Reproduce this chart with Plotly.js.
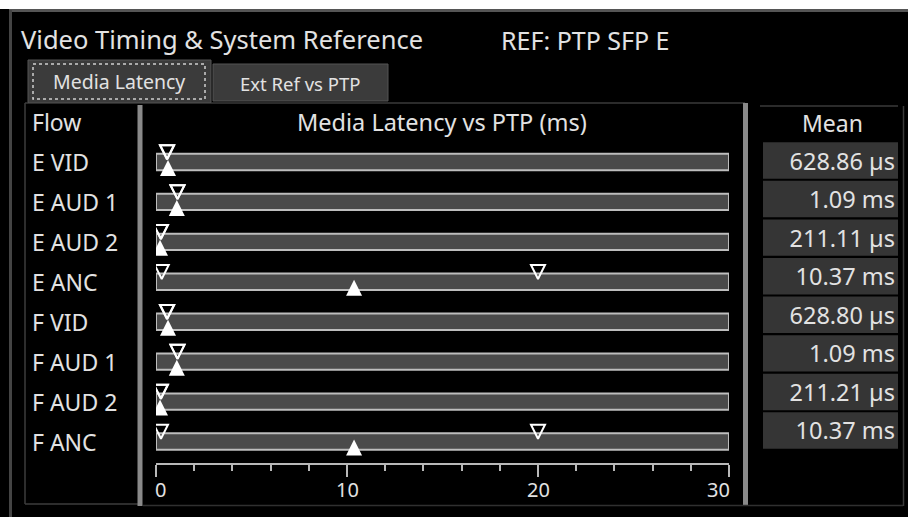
<!DOCTYPE html>
<html>
<head>
<meta charset="utf-8">
<script src="https://cdn.plot.ly/plotly-3.0.1.min.js"></script>
<style>
html,body{margin:0;padding:0;background:#000;}
#chart{width:908px;height:517px;}
</style>
</head>
<body>
<div id="chart"></div>
<script>
// ---- data ----
const flows = ['E VID', 'E AUD 1', 'E AUD 2', 'E ANC', 'F VID', 'F AUD 1', 'F AUD 2', 'F ANC'];
const meanMs = [0.62886, 1.09, 0.21111, 10.37, 0.62880, 1.09, 0.21121, 10.37];
const minMs = [0.57, 1.12, 0.25, 0.30, 0.57, 1.12, 0.25, 0.26];
const maxMs = [0.59, 1.13, 0.26, 20.0, 0.59, 1.13, 0.26, 20.0];
const meanLabels = ['628.86 µs', '1.09 ms', '211.11 µs', '10.37 ms', '628.80 µs', '1.09 ms', '211.21 µs', '10.37 ms'];
const tickValues = [0, 10, 20, 30];
const tickLabels = ['0', '10', '20', '30'];
const axisMin = 0, axisMax = 30;

// ---- helpers ----
const W = 908, H = 517;
const px = x => x / W;
const py = y => 1 - y / H;
const FONT = '"Noto Sans", "Open Sans", sans-serif';
const TXT = '#e2e2e2';
const rows = flows.map((_, i) => i);

const traces = [
  { // track bars (full scale)
    type: 'bar', orientation: 'h', xaxis: 'x', yaxis: 'y',
    y: rows, x: flows.map(() => axisMax - axisMin), base: axisMin,
    width: 0.41,
    marker: { color: '#4a4a4a', line: { color: '#bdbdbd', width: 2 } },
    hoverinfo: 'skip'
  },
  { // min markers
    type: 'scatter', mode: 'markers', xaxis: 'x', yaxis: 'y',
    x: minMs, y: rows.map(r => r - 0.07),
    marker: { symbol: 'arrow-down-open', size: 14, color: '#ffffff', line: { color: '#ffffff', width: 2 } },
    hoverinfo: 'skip'
  },
  { // max markers
    type: 'scatter', mode: 'markers', xaxis: 'x', yaxis: 'y',
    x: maxMs, y: rows.map(r => r - 0.07),
    marker: { symbol: 'arrow-down-open', size: 14, color: '#ffffff', line: { color: '#ffffff', width: 2 } },
    hoverinfo: 'skip'
  },
  { // mean markers
    type: 'scatter', mode: 'markers', xaxis: 'x', yaxis: 'y',
    x: meanMs, y: rows.map(r => r - 0.05),
    marker: { symbol: 'arrow-up', size: 16, color: '#ffffff', line: { width: 0 } },
    hoverinfo: 'skip'
  },
  { // mean value cells
    type: 'bar', orientation: 'h', xaxis: 'x2', yaxis: 'y2',
    y: rows, x: flows.map(() => 1), base: 0, width: 0.945,
    marker: { color: '#353535', line: { width: 0 } },
    text: meanLabels, textposition: 'inside', insidetextanchor: 'end',
    constraintext: 'none', cliponaxis: false,
    insidetextfont: { family: FONT, size: 23.5, color: TXT },
    hoverinfo: 'skip'
  }
];

const annotations = [];
function ann(text, x, y, size, xanchor, extra) {
  annotations.push(Object.assign({
    text: text, xref: 'paper', yref: 'paper', x: px(x), y: py(y),
    xanchor: xanchor || 'left', yanchor: 'middle', showarrow: false,
    font: { family: FONT, size: size, color: TXT }
  }, extra || {}));
}
ann('REF: PTP SFP E', 499, 40, 25, 'left');
ann('Media Latency', 119, 81, 19.5, 'center');
ann('Ext Ref vs PTP', 300, 83, 18.5, 'center');
ann('Flow', 30, 122, 23, 'left');
ann('Media Latency vs PTP (ms)', 442, 122, 23.5, 'center');
ann('Mean', 832, 123, 23, 'center');
flows.forEach((f, i) => {
  annotations.push({
    text: f, xref: 'paper', yref: 'y', x: px(30), y: i,
    xanchor: 'left', yanchor: 'middle', showarrow: false,
    font: { family: FONT, size: 23, color: TXT }
  });
});
tickValues.forEach((v, i) => {
  annotations.push({
    text: tickLabels[i], xref: 'x', yref: 'paper', x: v, y: py(490),
    xanchor: i === 0 ? 'left' : (i === tickValues.length - 1 ? 'right' : 'center'),
    xshift: i === 0 ? -3 : (i === tickValues.length - 1 ? 3 : 0),
    yanchor: 'middle', showarrow: false,
    font: { family: FONT, size: 20, color: TXT }
  });
});

const shapes = [];
function line(x0, y0, x1, y1, color, width, extra) {
  shapes.push(Object.assign({ type: 'line', xref: 'paper', yref: 'paper',
    x0: px(x0), y0: py(y0), x1: px(x1), y1: py(y1), line: { color: color, width: width } }, extra || {}));
}
function rect(x0, y0, x1, y1, fill, lcolor, lwidth, extra) {
  shapes.push(Object.assign({ type: 'rect', xref: 'paper', yref: 'paper',
    x0: px(x0), y0: py(y0), x1: px(x1), y1: py(y1), fillcolor: fill,
    line: { color: lcolor, width: lwidth } }, extra || {}));
}
// white strip on top
rect(0, 0, 908, 9, '#ffffff', '#ffffff', 0, { layer: 'above' });
// outer frame
line(9, 10.5, 908, 10.5, '#555555', 3);
line(10.5, 10, 10.5, 517, '#444444', 3);
// tabs
rect(28, 60, 211, 103, '#3b3b3b', '#555555', 1, { layer: 'below' });
rect(33, 64, 205, 99, 'rgba(0,0,0,0)', '#d0d0d0', 1.5, { layer: 'below', line: { color: '#d0d0d0', width: 1.5, dash: 'dot' } });
rect(213, 64, 388, 101, '#3b3b3b', '#555555', 1, { layer: 'below' });
// panel lines
line(211, 103, 745, 103, '#3a3a3a', 1.5);
line(25, 103, 28, 103, '#3a3a3a', 1.5);
line(25, 103, 25, 504, '#3d3d3d', 1.5);
line(25, 504, 140, 504, '#3d3d3d', 1.5);
line(140, 105, 140, 506, '#8a8a8a', 5);
line(745.5, 103, 745.5, 506, '#8a8a8a', 5);
line(143, 505.5, 903, 505.5, '#303030', 1.5);
line(760, 106, 898, 106, '#3a3a3a', 1.5);
line(903.5, 106, 903.5, 506, '#3a3a3a', 1.5);

const layout = {
  width: W, height: H,
  margin: { l: 0, r: 0, t: 0, b: 0, pad: 0 },
  paper_bgcolor: '#000000', plot_bgcolor: 'rgba(0,0,0,0)',
  showlegend: false, hovermode: false,
  font: { family: FONT, color: TXT },
  title: { text: 'Video Timing & System Reference', x: px(21), xanchor: 'left',
           y: py(40), yanchor: 'middle', font: { family: FONT, size: 25.5, color: TXT } },
  xaxis: {
    domain: [px(156), px(729)], range: [axisMin, axisMax], anchor: 'y',
    showline: true, linecolor: '#b8b8b8', linewidth: 2,
    ticks: 'outside', ticklen: 12, tickwidth: 2, tickcolor: '#b8b8b8',
    tickvals: tickValues, showticklabels: false,
    showgrid: false, zeroline: false, fixedrange: true,
    minor: { dtick: 2, ticks: 'outside', ticklen: 6, tickwidth: 2, tickcolor: '#b8b8b8', showgrid: false }
  },
  yaxis: {
    domain: [py(463), py(106)], range: [7.538, -1.4025], anchor: 'x',
    visible: false, showgrid: false, zeroline: false, fixedrange: true
  },
  xaxis2: {
    domain: [px(763), px(898)], range: [0, 1], anchor: 'y2',
    visible: false, showgrid: false, zeroline: false, fixedrange: true
  },
  yaxis2: {
    domain: [py(463), py(106)], range: [7.8426, -1.413], anchor: 'x2',
    visible: false, showgrid: false, zeroline: false, fixedrange: true
  },
  annotations: annotations,
  shapes: shapes
};

Plotly.newPlot('chart', traces, layout, { staticPlot: true, displayModeBar: false });
</script>
</body>
</html>
